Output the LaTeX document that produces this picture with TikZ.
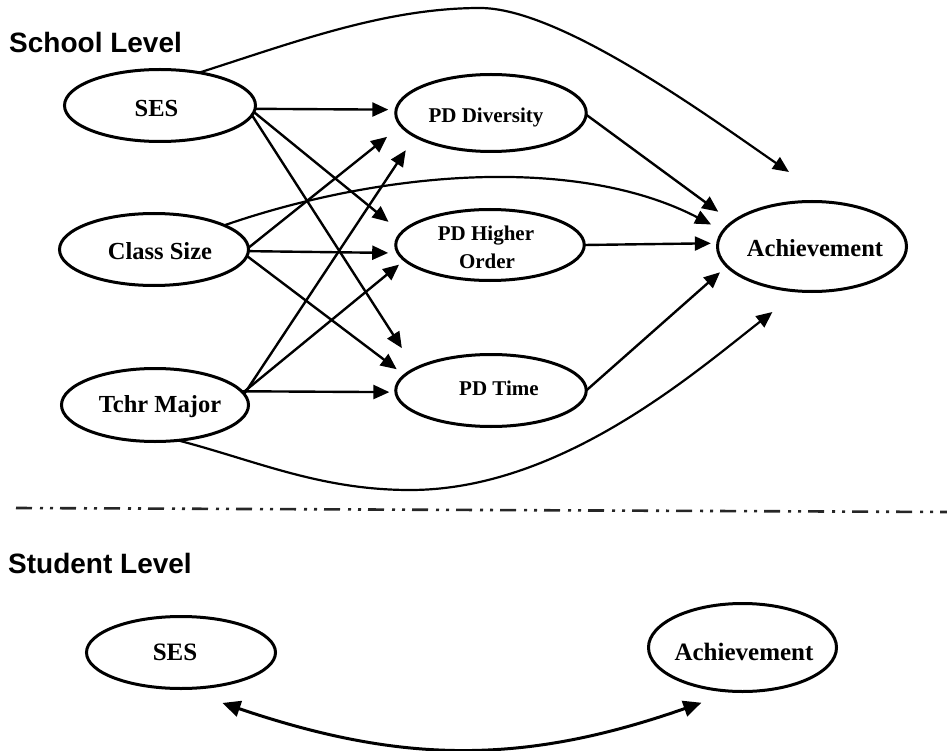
\documentclass[tikz,border=0pt]{standalone}
\usepackage{fontspec}
\setmainfont{Liberation Serif}
\newfontfamily\levelfont{Liberation Sans}
\usetikzlibrary{arrows.meta,shapes.geometric}

% text inside an oval: #1 doubled horizontal offset, #2 baseline drop, #3 size, #4 text
\newcommand\ovallabel[4]{%
  \raisebox{-#2pt}[0pt][0pt]{\makebox[0pt]{\hspace*{#1pt}\fontsize{#3pt}{#3pt}\selectfont\bfseries #4}}}

\tikzset{
  oval/.style={ellipse, draw, line width=3pt, inner sep=0pt, outer sep=0pt},
  headtext/.style={anchor=base west, inner sep=0pt,
    font=\levelfont\bfseries\fontsize{28pt}{28pt}\selectfont},
  link/.style={line width=2.4pt, -{Triangle[length=16pt,width=14pt]}},
  curvelink/.style={line width=2.2pt, -{Triangle[length=16pt,width=14pt]}},
  bothlink/.style={line width=3pt,
    {Triangle[length=18pt,width=16pt]}-{Triangle[length=18pt,width=16pt]}},
  divider/.style={line width=2.6pt, black!85,
    dash pattern=on 16pt off 8pt on 3pt off 7pt on 3pt off 7pt}
}

\begin{document}
\begin{tikzpicture}[x=1pt,y=-1pt]
\useasboundingbox (0,0) rectangle (947,751);

% section headings
\node[headtext] (schoolhead) at (9,52.3) {School Level};
\node[headtext] (studenthead) at (8,573) {Student Level};

% school level variables
\node[oval, minimum width=191pt, minimum height=72pt] (ses) at (160,105.5)
  {\ovallabel{-7}{11.2}{24.5}{SES}};
\node[oval, minimum width=189pt, minimum height=72pt] (cls) at (154,249.5)
  {\ovallabel{12}{10.5}{24.5}{Class Size}};
\node[oval, minimum width=187pt, minimum height=73pt] (tchr) at (155,405)
  {\ovallabel{10}{7.9}{24.5}{Tchr Major}};
\node[oval, minimum width=190.5pt, minimum height=77pt] (pdd) at (491,113)
  {\ovallabel{-10}{9.2}{21}{PD Diversity}};
\node[oval, minimum width=188.5pt, minimum height=71pt] (pdh) at (490,245)
  {\ovallabel{-8}{-4.4}{21}{PD Higher}\ovallabel{-6}{23.9}{21}{Order}};
\node[oval, minimum width=190.5pt, minimum height=72pt] (pdt) at (491,390.5)
  {\ovallabel{16}{5.1}{21}{PD Time}};
\node[oval, minimum width=189pt, minimum height=90pt] (ach) at (812,246.5)
  {\ovallabel{6}{9.7}{24.5}{Achievement}};

% student level variables
\node[oval, minimum width=189pt, minimum height=72pt] (sses) at (181,652.5)
  {\ovallabel{-12}{7.5}{25}{SES}};
\node[oval, minimum width=188pt, minimum height=88pt] (sach) at (742.5,647.5)
  {\ovallabel{3}{12.5}{25}{Achievement}};

% background variables -> professional development
\draw[link, shorten >=7.8pt]  (ses.-2)  -- (pdd.178);
\draw[link, shorten >=17pt]   (ses.-4)  -- (pdh.172);
\draw[link, shorten >=24.5pt] (ses.-6)  -- (pdt.164);
\draw[link, shorten >=17.9pt] (cls.1)   -- (pdd.188);
\draw[link, shorten >=10pt]   (cls.-1)  -- (pdh.185);
\draw[link, shorten >=10pt]   (cls.-4)  -- (pdt.170);
\draw[link, shorten >=16.8pt] (tchr.7)  -- (pdd.197);
\draw[link, shorten >=7.2pt]  (tchr.8)  -- (pdh.190);
\draw[link, shorten >=6.5pt]  (tchr.9)  -- (pdt.181);

% professional development -> achievement
\draw[link, shorten >=17.7pt] (pdd.-1) -- (ach.163);
\draw[link, shorten >=6.9pt]  (pdh.0)  -- (ach.178);
\draw[link, shorten >=9.3pt]  (pdt.0)  -- (ach.193);

% direct paths to achievement
\draw[curvelink, shorten >=54pt] (ses.40)
  .. controls (293.7,42.5) and (385,8) .. (480,8)
  .. controls (560,8) and (706.7,115.2) .. (ach.64);
\draw[curvelink, shorten >=13.8pt] (cls.19)
  .. controls (384.5,169.9) and (578.1,155.4) .. (ach.170);
\draw[curvelink, shorten >=34pt] (tchr.-57)
  .. controls (255.4,460.5) and (320,490) .. (410,490)
  .. controls (560,490) and (693,374) .. (ach.254);

% level separator
\draw[divider] (16,508) -- (947,512);

% student level covariance
\draw[bothlink, shorten <=45pt, shorten >=34.5pt] (sses.268)
  .. controls (401.6,763.8) and (522.3,765.4) .. (sach.259);
\end{tikzpicture}
\end{document}
